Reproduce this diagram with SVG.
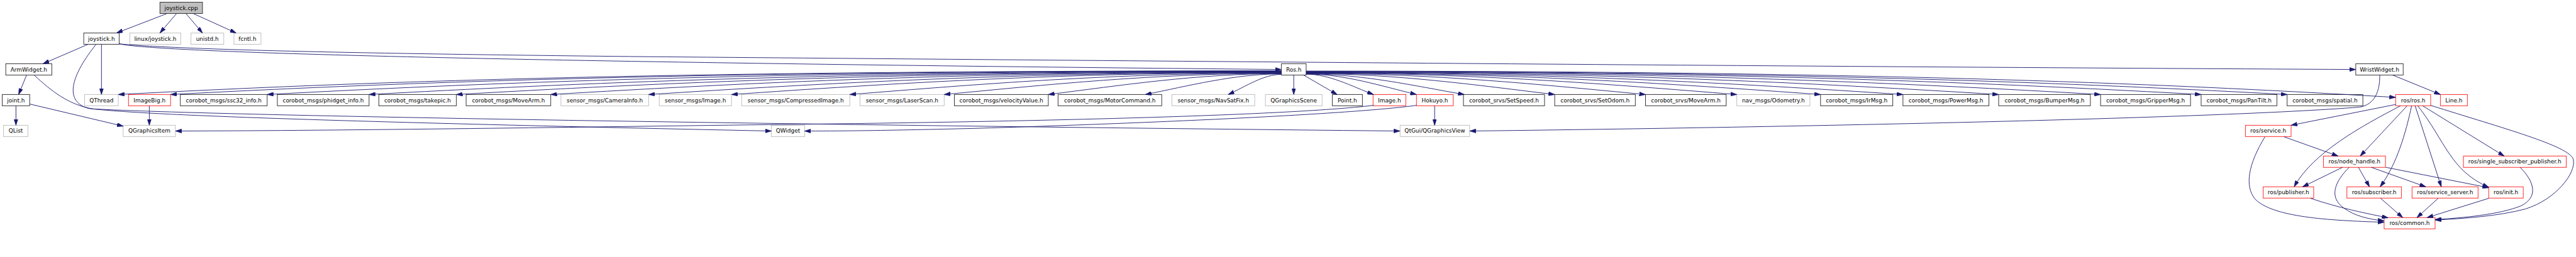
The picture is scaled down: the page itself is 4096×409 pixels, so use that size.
<svg xmlns="http://www.w3.org/2000/svg" width="4096" height="409" viewBox="0 0 4096 409">
<defs>
<style>
rect{fill:#fff;stroke-width:1.4}
.b rect{stroke:#333}
.g rect{stroke:#bfbfbf}
.r rect{stroke:#ff2a2a}
.f rect{fill:#bfbfbf;stroke:#333}
text{font-family:"DejaVu Sans",Verdana,sans-serif;font-size:12.7px;text-anchor:middle;fill:#000}
#edges path{fill:none;stroke:#191970;stroke-width:1.3;marker-end:url(#ah)}
</style>
<marker id="ah" viewBox="0 0 14 9" refX="14" refY="4.5" markerWidth="14" markerHeight="9" orient="auto" markerUnits="userSpaceOnUse"><path d="M0,0L14,4.5L0,9z" fill="#191970" stroke="#191970" stroke-width="1"/></marker>
</defs>
<rect x="0" y="0" width="4096" height="409" fill="#fff" stroke="none"/>
<g transform="scale(0.7045)">
<g id="nodes">
<g id="n_joystick_cpp" class="f"><rect x="361" y="5" width="96" height="25.5"/><text x="409" y="22.2">joystick.cpp</text></g>
<g id="n_joystick_h" class="b"><rect x="189" y="74.5" width="80" height="25.5"/><text x="229" y="91.7">joystick.h</text></g>
<g id="n_linux_joystick" class="g"><rect x="293" y="74.5" width="115" height="25.5"/><text x="350.5" y="91.7">linux/joystick.h</text></g>
<g id="n_unistd" class="g"><rect x="431" y="74.5" width="74" height="25.5"/><text x="468" y="91.7">unistd.h</text></g>
<g id="n_fcntl" class="g"><rect x="528" y="74.5" width="61" height="25.5"/><text x="558.5" y="91.7">fcntl.h</text></g>
<g id="n_ArmWidget" class="b"><rect x="13" y="144" width="104" height="25.5"/><text x="65" y="161.2">ArmWidget.h</text></g>
<g id="n_Ros" class="b"><rect x="2892" y="144" width="56" height="25.5"/><text x="2920" y="161.2">Ros.h</text></g>
<g id="n_WristWidget" class="b"><rect x="5317" y="144" width="107" height="25.5"/><text x="5370.5" y="161.2">WristWidget.h</text></g>
<g id="n_joint" class="b"><rect x="5" y="213.5" width="62" height="25.5"/><text x="36" y="230.7">joint.h</text></g>
<g id="n_QThread" class="g"><rect x="191" y="213.5" width="76" height="25.5"/><text x="229" y="230.7">QThread</text></g>
<g id="n_ImageBig" class="r"><rect x="290" y="213.5" width="95" height="25.5"/><text x="337.5" y="230.7">ImageBig.h</text></g>
<g id="n_ssc32" class="b"><rect x="407" y="213.5" width="196" height="25.5"/><text x="505" y="230.7">corobot_msgs/ssc32_info.h</text></g>
<g id="n_phidget" class="b"><rect x="626" y="213.5" width="207" height="25.5"/><text x="729.5" y="230.7">corobot_msgs/phidget_info.h</text></g>
<g id="n_takepic" class="b"><rect x="855" y="213.5" width="175" height="25.5"/><text x="942.5" y="230.7">corobot_msgs/takepic.h</text></g>
<g id="n_msgs_MoveArm" class="b"><rect x="1052" y="213.5" width="191" height="25.5"/><text x="1147.5" y="230.7">corobot_msgs/MoveArm.h</text></g>
<g id="n_CameraInfo" class="g"><rect x="1266" y="213.5" width="198" height="25.5"/><text x="1365" y="230.7">sensor_msgs/CameraInfo.h</text></g>
<g id="n_sensor_Image" class="g"><rect x="1488" y="213.5" width="163" height="25.5"/><text x="1569.5" y="230.7">sensor_msgs/Image.h</text></g>
<g id="n_CompressedImage" class="g"><rect x="1674" y="213.5" width="244" height="25.5"/><text x="1796" y="230.7">sensor_msgs/CompressedImage.h</text></g>
<g id="n_LaserScan" class="g"><rect x="1941" y="213.5" width="190" height="25.5"/><text x="2036" y="230.7">sensor_msgs/LaserScan.h</text></g>
<g id="n_velocityValue" class="b"><rect x="2154" y="213.5" width="212" height="25.5"/><text x="2260" y="230.7">corobot_msgs/velocityValue.h</text></g>
<g id="n_MotorCommand" class="b"><rect x="2388" y="213.5" width="234" height="25.5"/><text x="2505" y="230.7">corobot_msgs/MotorCommand.h</text></g>
<g id="n_NavSatFix" class="g"><rect x="2645" y="213.5" width="187" height="25.5"/><text x="2738.5" y="230.7">sensor_msgs/NavSatFix.h</text></g>
<g id="n_QGraphicsScene" class="g"><rect x="2856" y="213.5" width="128" height="25.5"/><text x="2920" y="230.7">QGraphicsScene</text></g>
<g id="n_Point" class="b"><rect x="3007" y="213.5" width="68" height="25.5"/><text x="3041" y="230.7">Point.h</text></g>
<g id="n_Image" class="r"><rect x="3099" y="213.5" width="74" height="25.5"/><text x="3136" y="230.7">Image.h</text></g>
<g id="n_Hokuyo" class="r"><rect x="3197" y="213.5" width="83" height="25.5"/><text x="3238.5" y="230.7">Hokuyo.h</text></g>
<g id="n_SetSpeed" class="b"><rect x="3303" y="213.5" width="183" height="25.5"/><text x="3394.5" y="230.7">corobot_srvs/SetSpeed.h</text></g>
<g id="n_SetOdom" class="b"><rect x="3509" y="213.5" width="182" height="25.5"/><text x="3600" y="230.7">corobot_srvs/SetOdom.h</text></g>
<g id="n_srvs_MoveArm" class="b"><rect x="3714" y="213.5" width="182" height="25.5"/><text x="3805" y="230.7">corobot_srvs/MoveArm.h</text></g>
<g id="n_Odometry" class="g"><rect x="3920" y="213.5" width="165" height="25.5"/><text x="4002.5" y="230.7">nav_msgs/Odometry.h</text></g>
<g id="n_IrMsg" class="b"><rect x="4109" y="213.5" width="163" height="25.5"/><text x="4190.5" y="230.7">corobot_msgs/IrMsg.h</text></g>
<g id="n_PowerMsg" class="b"><rect x="4295" y="213.5" width="194" height="25.5"/><text x="4392" y="230.7">corobot_msgs/PowerMsg.h</text></g>
<g id="n_BumperMsg" class="b"><rect x="4511" y="213.5" width="207" height="25.5"/><text x="4614.5" y="230.7">corobot_msgs/BumperMsg.h</text></g>
<g id="n_GripperMsg" class="b"><rect x="4741" y="213.5" width="203" height="25.5"/><text x="4842.5" y="230.7">corobot_msgs/GripperMsg.h</text></g>
<g id="n_PanTilt" class="b"><rect x="4968" y="213.5" width="171" height="25.5"/><text x="5053.5" y="230.7">corobot_msgs/PanTilt.h</text></g>
<g id="n_spatial" class="b"><rect x="5162" y="213.5" width="171" height="25.5"/><text x="5247.5" y="230.7">corobot_msgs/spatial.h</text></g>
<g id="n_ros_ros" class="r"><rect x="5407" y="213.5" width="79" height="25.5"/><text x="5446.5" y="230.7">ros/ros.h</text></g>
<g id="n_Line" class="r"><rect x="5508" y="213.5" width="61" height="25.5"/><text x="5538.5" y="230.7">Line.h</text></g>
<g id="n_QList" class="g"><rect x="8" y="283" width="55" height="25.5"/><text x="35.5" y="300.2">QList</text></g>
<g id="n_QGraphicsItem" class="g"><rect x="278" y="283" width="118" height="25.5"/><text x="337" y="300.2">QGraphicsItem</text></g>
<g id="n_QWidget" class="g"><rect x="1741" y="283" width="75" height="25.5"/><text x="1778.5" y="300.2">QWidget</text></g>
<g id="n_QGraphicsView" class="g"><rect x="3160" y="283" width="157" height="25.5"/><text x="3238.5" y="300.2">QtGui/QGraphicsView</text></g>
<g id="n_service" class="r"><rect x="5068" y="283" width="103" height="25.5"/><text x="5119.5" y="300.2">ros/service.h</text></g>
<g id="n_node_handle" class="r"><rect x="5244" y="352.5" width="140" height="25.5"/><text x="5314" y="369.7">ros/node_handle.h</text></g>
<g id="n_single_sub_pub" class="r"><rect x="5560" y="352.5" width="232" height="25.5"/><text x="5676" y="369.7">ros/single_subscriber_publisher.h</text></g>
<g id="n_publisher" class="r"><rect x="5108" y="422" width="114" height="25.5"/><text x="5165" y="439.2">ros/publisher.h</text></g>
<g id="n_subscriber" class="r"><rect x="5297" y="422" width="123" height="25.5"/><text x="5358.5" y="439.2">ros/subscriber.h</text></g>
<g id="n_service_server" class="r"><rect x="5444" y="422" width="149" height="25.5"/><text x="5518.5" y="439.2">ros/service_server.h</text></g>
<g id="n_init" class="r"><rect x="5617" y="422" width="78" height="25.5"/><text x="5656" y="439.2">ros/init.h</text></g>
<g id="n_common" class="r"><rect x="5381" y="491.5" width="115" height="25.5"/><text x="5438.5" y="508.7">ros/common.h</text></g>
</g>
<g id="edges">
<path d="M376,31 L263,74.5"/>
<path d="M398,31 L361,74.5"/>
<path d="M420,31 L457,74.5"/>
<path d="M437,31 L533,74.5"/>
<path d="M199,100 L97,144"/>
<path d="M229,100 L229,213.5"/>
<path d="M217,100 C165,165 140,228 200,245 C300,257 600,272 1741,296"/>
<path d="M269,99 C350,118 1100,140 2892,157"/>
<path d="M269,99 C380,110 700,120 1455,128 C2500,137 4000,150 5317,157"/>
<path d="M77,169.5 C115,205 155,237 210,246 C500,262 1800,282 3160,296"/>
<path d="M60,169.5 L42,213.5"/>
<path d="M36,239 L36,283"/>
<path d="M67,235 L278,285"/>
<path d="M337,239 L337,283"/>
<path d="M3100,238 C2900,262 2300,275 1780,281 C1300,287 800,295 396,296"/>
<path d="M3197,238 C3050,258 2600,278 2200,290 C2000,295 1900,296 1816,296"/>
<path d="M3238,239 L3238,283"/>
<path d="M5371,169.5 C5372,205 5360,237 5325,242 C5000,268 4000,288 3317,296"/>
<path d="M5400,169.5 L5508,213.5"/>
<path d="M2892,160 C1580,160 897,180.5 267,213.5"/>
<path d="M2892,160.4 C1659,160.4 997,181.3 385,213.5"/>
<path d="M2892,161 C1798,161 1178,182.6 603,213.5"/>
<path d="M2892,161.7 C1939,161.7 1366,184.1 833,213.5"/>
<path d="M2892,162.3 C2053,162.3 1525,185.3 1030,213.5"/>
<path d="M2892,163 C2171,163 1693,186.6 1243,213.5"/>
<path d="M2892,163.6 C2289,163.6 1865,187.8 1464,213.5"/>
<path d="M2892,164.2 C2383,164.2 2008,188.9 1651,213.5"/>
<path d="M2892,165 C2509,165 2207,190.4 1918,213.5"/>
<path d="M2892,165.7 C2604,165.7 2362,191.6 2131,213.5"/>
<path d="M2892,166.4 C2701,166.4 2530,192.9 2366,213.5"/>
<path d="M2892,167 C2785,167 2683,194 2585,213.5"/>
<path d="M2892,168 C2852,168 2812,195.1 2772,213.5"/>
<path d="M2920,169.5 L2920,213.5"/>
<path d="M2942,169.5 L3018,213.5"/>
<path d="M2948,167.5 C3000,167.5 3051,194.8 3100,213.5"/>
<path d="M2948,167.2 C3034,167.2 3117,194.3 3197,213.5"/>
<path d="M2948,166.9 C3074,166.9 3191,193.7 3305,213.5"/>
<path d="M2948,166.3 C3153,166.3 3335,192.7 3509,213.5"/>
<path d="M2948,165.7 C3239,165.7 3481,191.6 3714,213.5"/>
<path d="M2948,165 C3330,165 3631,190.4 3920,213.5"/>
<path d="M2948,164.5 C3418,164.5 3772,189.4 4109,213.5"/>
<path d="M2948,163.9 C3510,163.9 3912,188.3 4295,213.5"/>
<path d="M2948,163.2 C3622,163.2 4080,187 4511,213.5"/>
<path d="M2948,162.5 C3748,162.5 4260,185.7 4741,213.5"/>
<path d="M2948,161.8 C3879,161.8 4441,184.3 4968,213.5"/>
<path d="M2948,161.3 C3995,161.3 4600,183.2 5162,213.5"/>
<path d="M2948,160.5 C4150,160.5 4802,183.9 5407,220"/>
<path d="M5407,236 L5171,283"/>
<path d="M5418,239 C5330,285 5220,345 5178,422"/>
<path d="M5433,239 L5327,352.5"/>
<path d="M5443,239 C5430,300 5410,370 5372,422"/>
<path d="M5451,239 L5510,422"/>
<path d="M5457,239 C5520,320 5530,385 5617,423"/>
<path d="M5468,239 L5652,352.5"/>
<path d="M5486,238 C5650,290 5800,330 5808,360 C5815,390 5770,450 5700,472 C5640,488 5560,494 5496,497"/>
<path d="M5155,309 L5277,352.5"/>
<path d="M5112,309 C5075,370 5065,420 5090,450 C5130,490 5250,498 5381,502"/>
<path d="M5287,378 L5197,422"/>
<path d="M5323,378 L5348,422"/>
<path d="M5352,378 L5475,422"/>
<path d="M5385,378 L5617,424"/>
<path d="M5302,378 C5270,410 5255,445 5290,470 C5315,488 5345,495 5381,499"/>
<path d="M5215,448 C5280,470 5340,482 5390,492"/>
<path d="M5373,448 L5423,491.5"/>
<path d="M5503,448 L5455,491.5"/>
<path d="M5617,448 L5478,491.5"/>
<path d="M5688,378 C5720,410 5730,445 5690,465 C5640,485 5560,492 5496,496"/>
</g>
</g>
</svg>
